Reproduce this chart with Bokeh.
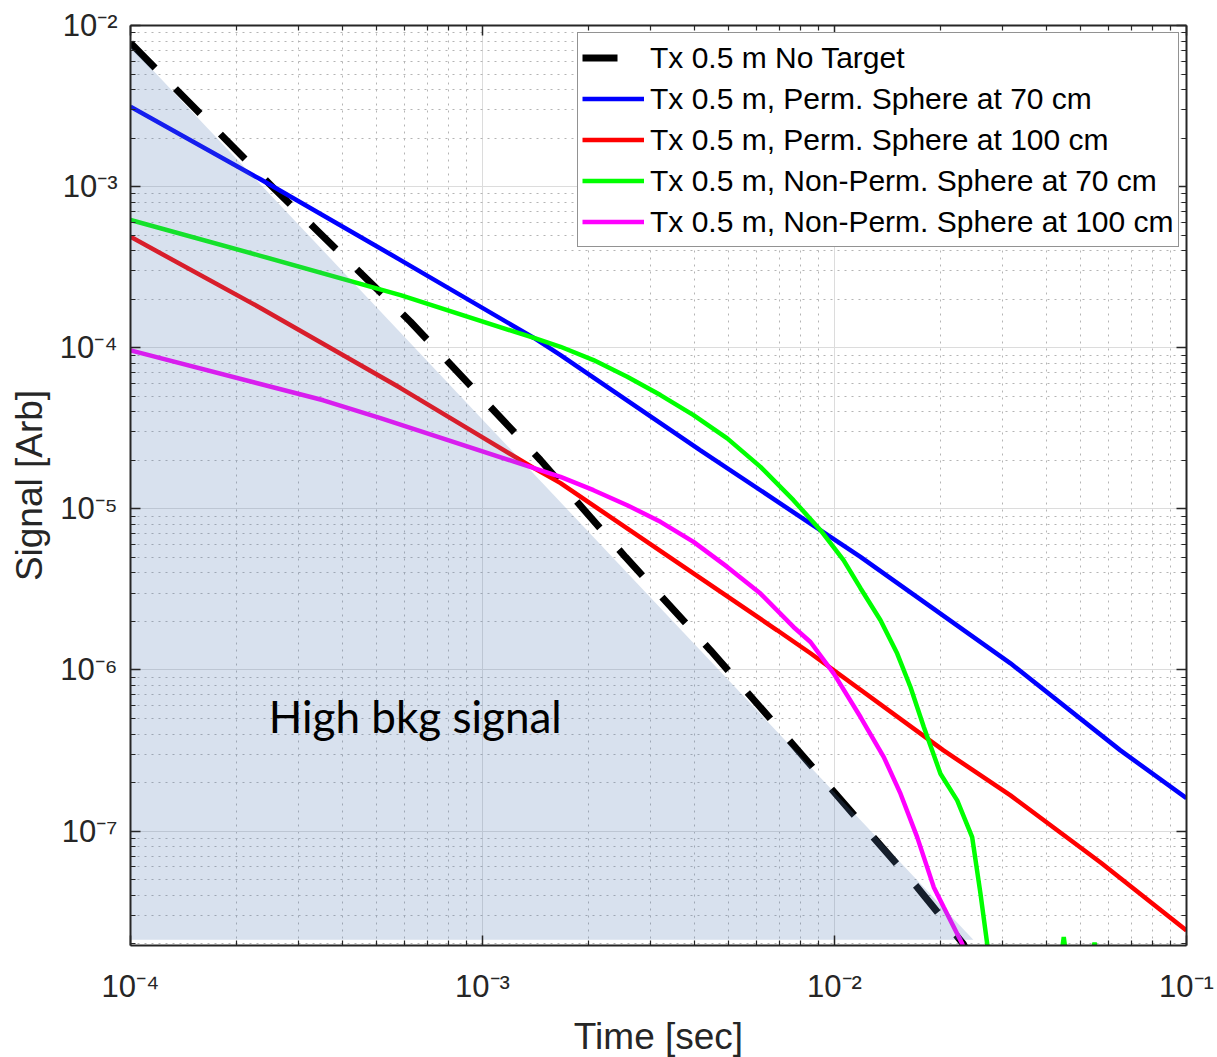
from bokeh.plotting import figure
from bokeh.models import (LogAxis, FixedTicker, CustomJSTickFormatter, Legend,
                          LegendItem, Label)
from bokeh.embed import file_html
from bokeh.resources import INLINE

# ---------------- data ----------------
t_none = [1.00e-4, 2.58e-4, 6.24e-4, 1.46e-3, 2.55e-3, 4.45e-3, 7.66e-3, 1.29e-2, 1.72e-2, 2.32e-2, 2.45e-2]
s_none = [7.78e-3, 9.55e-4, 1.45e-4, 2.01e-5, 5.01e-6, 1.32e-6, 3.40e-7, 9.14e-8, 4.47e-8, 2.00e-8, 1.60e-8]

t_perm70 = [1.00e-4, 2.34e-4, 5.85e-4, 1.40e-3, 1.666e-3, 4.16e-3, 1.185e-2, 3.162e-2, 6.49e-2, 1.00e-1]
s_perm70 = [3.13e-3, 1.11e-3, 3.50e-4, 1.15e-4, 9.01e-5, 2.31e-5, 5.03e-6, 1.10e-6, 3.17e-7, 1.60e-7]

t_perm100 = [1.00e-4, 2.34e-4, 5.85e-4, 1.40e-3, 1.666e-3, 6.874e-3, 8.545e-3, 2.04e-2, 3.162e-2, 5.70e-2, 1.00e-1]
s_perm100 = [4.88e-4, 1.766e-4, 5.62e-5, 1.79e-5, 1.444e-5, 1.764e-6, 1.27e-6, 3.17e-7, 1.666e-7, 6.39e-8, 2.42e-8]

t_np70 = [1.00e-4, 2.34e-4, 5.85e-4, 1.40e-3, 1.666e-3, 2.067e-3, 2.577e-3, 3.203e-3, 3.976e-3, 4.957e-3,
          6.163e-3, 7.645e-3, 9.124e-3, 1.0607e-2, 1.1854e-2, 1.351e-2, 1.5072e-2, 1.6434e-2, 1.7935e-2,
          2.000e-2, 2.2313e-2, 2.4608e-2, 2.5986e-2, 2.715e-2, 2.80e-2,
          4.41e-2, 4.48e-2, 4.55e-2, 5.42e-2, 5.48e-2, 5.54e-2, 1.00e-1]
s_np70 = [6.21e-4, 3.72e-4, 2.12e-4, 1.15e-4, 1.014e-4, 8.387e-5, 6.604e-5, 5.084e-5, 3.819e-5, 2.737e-5,
          1.823e-5, 1.132e-5, 7.373e-6, 4.802e-6, 3.218e-6, 2.035e-6, 1.264e-6, 7.84e-7, 4.426e-7,
          2.272e-7, 1.551e-7, 9.18e-8, 4.084e-8, 1.998e-8, 1.20e-8,
          1.70e-8, 2.20e-8, 1.70e-8, 1.80e-8, 2.03e-8, 1.80e-8, 1.00e-8]

t_np100 = [1.00e-4, 3.53e-4, 5.13e-4, 1.40e-3, 1.666e-3, 2.067e-3, 2.577e-3, 3.203e-3, 3.976e-3,
           4.957e-3, 6.163e-3, 7.645e-3, 8.545e-3, 9.954e-3, 1.1854e-2, 1.3806e-2, 1.540e-2, 1.7175e-2,
           1.9143e-2, 2.0437e-2, 2.306e-2, 2.40e-2]
s_np100 = [9.64e-5, 4.72e-5, 3.66e-5, 1.79e-5, 1.581e-5, 1.306e-5, 1.054e-5, 8.305e-6, 6.237e-6,
           4.362e-6, 2.981e-6, 1.850e-6, 1.4925e-6, 9.497e-7, 5.107e-7, 2.881e-7, 1.707e-7, 9.18e-8,
           4.489e-8, 3.373e-8, 1.998e-8, 1.50e-8]

# shaded "high background" region (triangle)
bkg_t = [1.00e-4, 2.48e-2, 1.00e-4]
bkg_s = [7.40e-3, 2.12e-8, 2.12e-8]

labels = ["Tx 0.5 m No Target",
          "Tx 0.5 m, Perm. Sphere at 70 cm",
          "Tx 0.5 m, Perm. Sphere at 100 cm",
          "Tx 0.5 m, Non-Perm. Sphere at 70 cm",
          "Tx 0.5 m, Non-Perm. Sphere at 100 cm"]

x_major = [1e-4, 1e-3, 1e-2, 1e-1]
y_major = [1e-7, 1e-6, 1e-5, 1e-4, 1e-3, 1e-2]
x_minor = [m * 10.0 ** e for e in range(-4, -1) for m in range(2, 10)]
y_minor = [m * 10.0 ** e for e in range(-8, -2) for m in range(2, 10) if m * 10.0 ** e >= 1.95e-8]

# ---------------- figure ----------------
FONT = "Liberation Sans"
AX = "#262626"

p = figure(frame_width=1056, frame_height=920,
           x_axis_type="log", y_axis_type="log",
           x_range=(1e-4, 1e-1), y_range=(1.95e-8, 1e-2),
           output_backend="svg", toolbar_location=None,
           min_border_left=130, min_border_right=31,
           min_border_top=25, min_border_bottom=112,
           background_fill_color="white", border_fill_color="white")
p.outline_line_color = None

xt = FixedTicker(ticks=x_major, minor_ticks=x_minor)
yt = FixedTicker(ticks=y_major, minor_ticks=y_minor)

fmt_code = """
const sup = {"-":"\u207b","0":"\u2070","1":"\u00b9","2":"\u00b2","3":"\u00b3",
             "4":"\u2074","5":"\u2075","6":"\u2076","7":"\u2077","8":"\u2078","9":"\u2079"};
const e = Math.round(Math.log10(tick));
return "10" + String(e).split("").map(c => sup[c]).join("");
"""


def style_axis(ax, ticker, show_labels):
    ax.ticker = ticker
    ax.axis_line_color = AX
    ax.axis_line_width = 2
    ax.major_tick_line_color = AX
    ax.minor_tick_line_color = AX
    ax.major_tick_line_width = 1.5
    ax.minor_tick_line_width = 1.2
    ax.major_tick_in = 10
    ax.major_tick_out = 0
    ax.minor_tick_in = 5
    ax.minor_tick_out = 0
    if show_labels:
        ax.formatter = CustomJSTickFormatter(code=fmt_code)
        ax.major_label_text_font = FONT
        ax.major_label_text_font_size = "31px"
        ax.major_label_text_color = AX
        ax.axis_label_text_font = FONT
        ax.axis_label_text_font_size = "37px"
        ax.axis_label_text_font_style = "normal"
        ax.axis_label_text_color = AX
    else:
        ax.formatter = CustomJSTickFormatter(code="return '';")
        ax.major_label_text_color = None
        ax.major_label_text_font_size = "1px"
        ax.major_label_standoff = 0


style_axis(p.xaxis[0], xt, True)
style_axis(p.yaxis[0], yt, True)
p.xaxis[0].axis_label = "Time [sec]"
p.yaxis[0].axis_label = "Signal [Arb]"
p.xaxis[0].major_label_standoff = 23
p.xaxis[0].axis_label_standoff = 9
p.yaxis[0].major_label_standoff = 13
p.yaxis[0].axis_label_standoff = 7

top_ax = LogAxis()
right_ax = LogAxis()
style_axis(top_ax, xt, False)
style_axis(right_ax, yt, False)
p.add_layout(top_ax, "above")
p.add_layout(right_ax, "right")

for g, t in ((p.xgrid[0], xt), (p.ygrid[0], yt)):
    g.ticker = t
    g.grid_line_color = "#dcdcdc"
    g.grid_line_width = 1
    g.minor_grid_line_color = "#b4b4b4"
    g.minor_grid_line_width = 1
    g.minor_grid_line_dash = "2 5"

# ---------------- lines ----------------
r0 = p.line(t_none, s_none, line_color="black", line_width=7, line_dash="35 29")
r1 = p.line(t_perm70, s_perm70, line_color="#0000ff", line_width=4.5)
r2 = p.line(t_perm100, s_perm100, line_color="#ff0000", line_width=4.5)
r3 = p.line(t_np70, s_np70, line_color="#00ff00", line_width=4.5)
r4 = p.line(t_np100, s_np100, line_color="#ff00ff", line_width=4.5)

# shaded region drawn over the curves (semi transparent)
p.patch(bkg_t, bkg_s, fill_color=(89, 128, 183), fill_alpha=0.235, line_color=None)

p.add_layout(Label(x=2.47e-4, y=5.2e-7, text="High bkg signal",
                   text_font="Lato", text_font_size="44px", text_color="black",
                   text_baseline="alphabetic", text_align="left"))

legend = Legend(items=[LegendItem(label=lab, renderers=[r])
                       for lab, r in zip(labels, [r0, r1, r2, r3, r4])],
                location=(447, 698))
legend.label_text_font = FONT
legend.label_text_font_size = "30px"
legend.label_text_color = "black"
legend.label_text_baseline = "middle"
legend.glyph_width = 62
legend.glyph_height = 41
legend.label_height = 41
legend.label_standoff = 6
legend.spacing = 0
legend.padding = 4
legend.margin = 0
legend.border_line_color = AX
legend.border_line_width = 1
legend.background_fill_color = "white"
legend.background_fill_alpha = 1.0
p.add_layout(legend)

open("out.html", "w").write(file_html(p, INLINE))
